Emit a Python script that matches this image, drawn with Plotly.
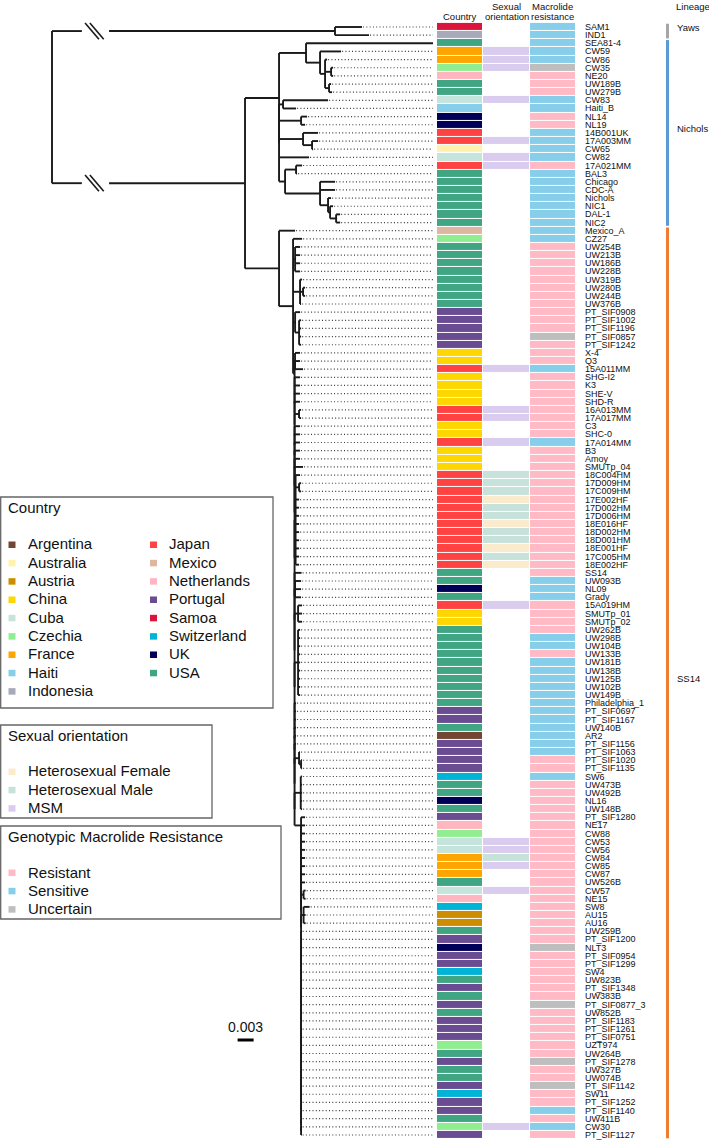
import plotly.graph_objects as go

# ---------------------------------------------------------------- data
COUNTRIES = ["Argentina", "Australia", "Austria", "China", "Cuba", "Czechia", "France", "Haiti",
             "Indonesia", "Japan", "Mexico", "Netherlands", "Portugal", "Samoa", "Switzerland",
             "UK", "USA"]
COUNTRY_COLORS = ["#734634", "#FFF2AE", "#CC8E00", "#FFD700", "#C5E4DC", "#90EE90", "#FFA500",
                  "#87CEEB", "#A8A9BA", "#FF4343", "#DDB89F", "#FFB6C1", "#6A4C93", "#DC143C",
                  "#00B4D8", "#000058", "#40A583"]
ORIENTATIONS = ["Heterosexual Female", "Heterosexual Male", "MSM"]
ORIENT_COLORS = ["#FAEBCC", "#C6E2DA", "#D9CCEF"]
RESISTANCE = ["Resistant", "Sensitive", "Uncertain"]
RESIST_COLORS = ["#FFBAC6", "#87CEEB", "#BEBEBE"]
LINEAGES = ["Yaws", "Nichols", "SS14"]
LINEAGE_COLORS = ["#A6A6A6", "#5B9BD5", "#ED7D31"]
LINEAGE_FIRST = ["SAM1", "SEA81-4", "Mexico_A"]
LINEAGE_LAST = ["IND1", "NIC2", "PT_SIF1127"]
COLUMN_HEADERS = [["Country"], ["Sexual", "orientation"], ["Macrolide", "resistance"]]

TIP_NAMES = [
    "SAM1", "IND1", "SEA81-4", "CW59", "CW86", "CW35", "NE20", "UW189B", "UW279B", "CW83",
    "Haiti_B", "NL14", "NL19", "14B001UK", "17A003MM", "CW65", "CW82", "17A021MM", "BAL3", "Chicago",
    "CDC-A", "Nichols", "NIC1", "DAL-1", "NIC2", "Mexico_A", "CZ27", "UW254B", "UW213B", "UW186B",
    "UW228B", "UW319B", "UW280B", "UW244B", "UW376B", "PT_SIF0908", "PT_SIF1002", "PT_SIF1196", "PT_SIF0857", "PT_SIF1242",
    "X-4", "Q3", "15A011MM", "SHG-I2", "K3", "SHE-V", "SHD-R", "16A013MM", "17A017MM", "C3",
    "SHC-0", "17A014MM", "B3", "Amoy", "SMUTp_04", "18C004HM", "17D009HM", "17C009HM", "17E002HF", "17D002HM",
    "17D006HM", "18E016HF", "18D002HM", "18D001HM", "18E001HF", "17C005HM", "18E002HF", "SS14", "UW093B", "NL09",
    "Grady", "15A019HM", "SMUTp_01", "SMUTp_02", "UW262B", "UW298B", "UW104B", "UW133B", "UW181B", "UW138B",
    "UW125B", "UW102B", "UW149B", "Philadelphia_1", "PT_SIF0697", "PT_SIF1167", "UW140B", "AR2", "PT_SIF1156", "PT_SIF1063",
    "PT_SIF1020", "PT_SIF1135", "SW6", "UW473B", "UW492B", "NL16", "UW148B", "PT_SIF1280", "NE17", "CW88",
    "CW53", "CW56", "CW84", "CW85", "CW87", "UW526B", "CW57", "NE15", "SW8", "AU15",
    "AU16", "UW259B", "PT_SIF1200", "NLT3", "PT_SIF0954", "PT_SIF1299", "SW4", "UW823B", "PT_SIF1348", "UW383B",
    "PT_SIF0877_3", "UW852B", "PT_SIF1183", "PT_SIF1261", "PT_SIF0751", "UZT974", "UW264B", "PT_SIF1278", "UW327B", "UW074B",
    "PT_SIF1142", "SW11", "PT_SIF1252", "PT_SIF1140", "UW411B", "CW30", "PT_SIF1127"]

TIP_COUNTRY = [
    "Samoa", "Indonesia", "USA", "France", "France", "Czechia", "Netherlands", "USA", "USA", "Cuba",
    "Haiti", "UK", "UK", "Japan", "Japan", "Australia", "Cuba", "Japan", "USA", "USA",
    "USA", "USA", "USA", "USA", "USA", "Mexico", "Czechia", "USA", "USA", "USA",
    "USA", "USA", "USA", "USA", "USA", "Portugal", "Portugal", "Portugal", "Portugal", "Portugal",
    "China", "China", "Japan", "China", "China", "China", "China", "Japan", "Japan", "China",
    "China", "Japan", "China", "China", "China", "Japan", "Japan", "Japan", "Japan", "Japan",
    "Japan", "Japan", "Japan", "Japan", "Japan", "Japan", "Japan", "USA", "USA", "UK",
    "USA", "Japan", "China", "China", "USA", "USA", "USA", "USA", "USA", "USA",
    "USA", "USA", "USA", "USA", "Portugal", "Portugal", "USA", "Argentina", "Portugal", "Portugal",
    "Portugal", "Portugal", "Switzerland", "USA", "USA", "UK", "USA", "Portugal", "Netherlands", "Czechia",
    "Cuba", "Cuba", "France", "France", "France", "USA", "Cuba", "Netherlands", "Switzerland", "Austria",
    "Austria", "USA", "Portugal", "UK", "Portugal", "Portugal", "Switzerland", "USA", "Portugal", "USA",
    "Portugal", "USA", "Portugal", "Portugal", "Portugal", "Czechia", "USA", "Portugal", "USA", "USA",
    "Portugal", "Switzerland", "Portugal", "Portugal", "USA", "Czechia", "Portugal"]

# R = Resistant, S = Sensitive, U = Uncertain (one letter per tip, same order as TIP_NAMES)
TIP_RESISTANCE = list(
    "SSSSSURRRS" "SRRSSSSRSS" "SSSSSSSRRR" "RRRRRRRRUR" "RRSRRRRRRR"
    "RSRRRRRRRR" "RRRRRRRRSS" "SRRRRSSRSS" "SSSSSSSSSS" "RRSRRRRRRR"
    "RRRRRRRRRR" "RRRURRRRRR" "URRRRRRURR" "URRSRSR")

ORIENTATION_BY_TIP = {
    "CW59": "MSM", "CW86": "MSM", "CW35": "MSM", "CW83": "MSM", "17A003MM": "MSM", "CW82": "MSM",
    "17A021MM": "MSM", "15A011MM": "MSM", "16A013MM": "MSM", "17A017MM": "MSM", "17A014MM": "MSM",
    "18C004HM": "Heterosexual Male", "17D009HM": "Heterosexual Male", "17C009HM": "Heterosexual Male",
    "17E002HF": "Heterosexual Female", "17D002HM": "Heterosexual Male", "17D006HM": "Heterosexual Male",
    "18E016HF": "Heterosexual Female", "18D002HM": "Heterosexual Male", "18D001HM": "Heterosexual Male",
    "18E001HF": "Heterosexual Female", "17C005HM": "Heterosexual Male", "18E002HF": "Heterosexual Female",
    "15A019HM": "MSM", "CW53": "MSM", "CW56": "MSM", "CW84": "Heterosexual Male", "CW85": "MSM",
    "CW57": "MSM", "CW30": "MSM"}

# Tree (Newick), branch lengths in units of 1e-4 substitutions/site.
LENGTH_UNIT = 1e-4
SCALE_BAR = 0.003
NEWICK_YAWS = "(SAM1:50.6,IND1:63.8)"
NEWICK_NICHOLS_A = ("(SEA81-4:238.1,(CW59:39.4,(CW86:3.8,(CW35:3.8,NE20:3.8):11.3,"
                    "(UW189B:3.8,UW279B:5.6):7.5):9.4):26.3)")
NEWICK_NICHOLS_B = ("((CW83:84.4,Haiti_B:24.4):7.5,(NL14:11.3,NL19:7.5):41.3,"
                    "(14B001UK:28.1,(17A003MM:11.3,CW65:1.9):16.9):45.0,CW82:56.3,"
                    "((17A021MM:11.3,BAL3:1.9):20.6,(Chicago:28.1,CDC-A:28.1,(Nichols:5.6,"
                    "(NIC1:5.6,(DAL-1:7.5,NIC2:7.5):11.3):3.8):15.0):65.6):11.3)")
NEWICK_SS14_TOP = ("CZ27:16.9,(UW254B:9.4,UW213B:9.4,UW186B:9.4,UW228B:9.4):3.8,"
                   "(UW319B:3.8,(UW280B:3.8,UW244B:3.8):5.6,UW376B:1.9):13.1,"
                   "(PT_SIF0908:9.4,(PT_SIF1002:3.8,PT_SIF1196:3.8,PT_SIF0857:3.8,PT_SIF1242:3.8):7.5):3.8")
SS14_BACKBONE = [
    "(X-4:9.4,Q3:9.4,15A011MM:15.0):0.9", "SHG-I2:10.3", "K3:10.3", "SHE-V:10.3", "SHD-R:10.3",
    "(16A013MM:3.8,17A017MM:3.8):8.4", "C3:10.3", "SHC-0:10.3", "17A014MM:10.3", "B3:10.3",
    "Amoy:10.3", "SMUTp_04:15.9",
    "(18C004HM:8.4,(17D009HM:3.8,17C009HM:3.8):6.6,17E002HF:6.6,17D002HM:6.6,17D006HM:6.6,"
    "18E016HF:6.6,18D002HM:6.6,18D001HM:6.6,18E001HF:6.6,17C005HM:6.6,18E002HF:6.6):1.9",
    "SS14:13.1", "(UW093B:11.3,NL09:11.3,Grady:11.3):0.9",
    "(15A019HM:7.5,SMUTp_01:7.5,SMUTp_02:7.5):6.6",
    "(UW262B:3.8,UW298B:3.8,UW104B:3.8,UW133B:3.8,UW181B:3.8,UW138B:3.8,UW125B:3.8,"
    "UW102B:3.8,UW149B:3.8):6.6",
    "Philadelphia_1:2.8", "PT_SIF0697:2.8", "PT_SIF1167:2.8", "UW140B:2.8", "AR2:2.8", "PT_SIF1156:2.8",
    "(PT_SIF1063:1.9,(PT_SIF1020:1.9,PT_SIF1135:1.9):3.8):8.4",
    "(SW6:2.5,UW473B:2.5,UW492B:2.5,NL16:2.5,UW148B:2.5):11.6"]
SS14_BACKBONE_TO_BOTTOM = 12.2
SS14_BOTTOM = [
    "PT_SIF1280:7.5", "NE17:7.5", "CW88:7.5", "CW53:7.5", "CW56:7.5", "CW84:7.5", "CW85:7.5",
    "CW87:7.5", "UW526B:7.5", "(CW57:3.8,NE15:3.8):4.7", "(SW8:11.3,AU15:3.8,AU16:3.8):4.7",
    "UW259B:0.9", "PT_SIF1200:0.9", "NLT3:0.9", "PT_SIF0954:0.9", "PT_SIF1299:0.9", "SW4:0.9",
    "UW823B:0.9", "PT_SIF1348:0.9", "UW383B:0.9", "PT_SIF0877_3:0.9", "UW852B:0.9", "PT_SIF1183:0.9",
    "PT_SIF1261:0.9", "PT_SIF0751:0.9", "UZT974:0.9", "UW264B:0.9", "PT_SIF1278:0.9", "UW327B:0.9",
    "UW074B:0.9", "PT_SIF1142:0.9", "SW11:0.9", "PT_SIF1252:0.9", "PT_SIF1140:0.9", "UW411B:0.9",
    "CW30:0.9", "PT_SIF1127:0.9"]

# ---------------------------------------------------------------- geometry / style
W, H = 709, 1143
ROOT_PX = 52.0          # pixel column of the root
PX_PER_SUB = 16 / SCALE_BAR
ROW0_PX, ROW_PX = 27.0, 8.147
BREAK_GAP = (0.0056, 0.0107)
FONT = "Arial, Liberation Sans, sans-serif"


def ladder(items):
    """ladderised nesting: (a,(b,(c,...):0):0)"""
    s = items[-1]
    for it in reversed(items[:-1]):
        s = "(" + it + "," + s + "):0"
    return s[:-2] if s.endswith(":0") else s


bottom = ladder(SS14_BOTTOM)
backbone = ladder(SS14_BACKBONE + [bottom + ":" + str(SS14_BACKBONE_TO_BOTTOM)])
NEWICK = ("(" + NEWICK_YAWS + ":530.6,((" + NEWICK_NICHOLS_A + ":50.6," + NEWICK_NICHOLS_B + ":0):63.8,"
          "(Mexico_A:30.0,(" + NEWICK_SS14_TOP + "," + backbone + ":2.8):26.3):63.8):361.9);")


def parse_newick(s):
    pos = 0

    def node():
        nonlocal pos
        children = []
        if s[pos] == "(":
            pos += 1
            while True:
                children.append(node())
                if s[pos] == ",":
                    pos += 1
                    continue
                if s[pos] == ")":
                    pos += 1
                    break
        start = pos
        while pos < len(s) and s[pos] not in ":,();":
            pos += 1
        name = s[start:pos]
        length = 0.0
        if pos < len(s) and s[pos] == ":":
            pos += 1
            start = pos
            while pos < len(s) and s[pos] not in ",();":
                pos += 1
            length = float(s[start:pos])
        return {"name": name, "len": length, "children": children}

    return node()


tree = parse_newick(NEWICK)
ROW = {n: i for i, n in enumerate(TIP_NAMES)}


def place(node, depth):
    node["x"] = depth
    if not node["children"]:
        node["y"] = ROW[node["name"]]
    else:
        for c in node["children"]:
            place(c, depth + c["len"] * LENGTH_UNIT)
        node["y"] = (node["children"][0]["y"] + node["children"][-1]["y"]) / 2


place(tree, 0.0)

tx, ty = [], []
tips = []


def seg(x0, y0, x1, y1):
    tx.extend([x0, x1, None])
    ty.extend([y0, y1, None])


def walk(node, parent, root_child):
    if parent is not None:
        if root_child:
            seg(parent["x"], node["y"], BREAK_GAP[0], node["y"])
            seg(BREAK_GAP[1], node["y"], node["x"], node["y"])
        else:
            seg(parent["x"], node["y"], node["x"], node["y"])
    if node["children"]:
        seg(node["x"], node["children"][0]["y"], node["x"], node["children"][-1]["y"])
        for c in node["children"]:
            walk(c, node, parent is None)
    else:
        tips.append(node)


walk(tree, None, False)

# break marks
sx, sy = [], []
mid = (BREAK_GAP[0] + BREAK_GAP[1]) / 2 - 0.0002
for c in tree["children"]:
    for off in (-0.00045, 0.00045):
        sx.extend([mid + off - 0.0013, mid + off + 0.0013, None])
        sy.extend([c["y"] - 1.0, c["y"] + 1.0, None])

# dotted leaders to aligned tips
xmax = max(t["x"] for t in tips)
lx, ly = [], []
for t in tips:
    if t["x"] < xmax - 1e-9:
        lx.extend([t["x"] + 0.0002, xmax, None])
        ly.extend([t["y"], t["y"], None])

# heatmap
ALL_COLORS = COUNTRY_COLORS + ORIENT_COLORS + RESIST_COLORS
n_all = len(ALL_COLORS)
cs = []
for k, col in enumerate(ALL_COLORS):
    lo = max(0.0, (k - 0.5) / (n_all - 1))
    hi = min(1.0, (k + 0.5) / (n_all - 1))
    cs.append([lo, col])
    cs.append([hi, col])
res_idx = {"R": 0, "S": 1, "U": 2}
Z = []
for i, name in enumerate(TIP_NAMES):
    c = COUNTRIES.index(TIP_COUNTRY[i])
    o = ORIENTATION_BY_TIP.get(name)
    o = None if o is None else len(COUNTRIES) + ORIENTATIONS.index(o)
    r = len(COUNTRIES) + len(ORIENTATIONS) + res_idx[TIP_RESISTANCE[i]]
    Z.append([c, o, r])

fig = go.Figure()
fig.add_trace(go.Heatmap(z=Z, x=[0, 1, 2], y=list(range(len(TIP_NAMES))), xaxis="x2", yaxis="y",
                         colorscale=cs, zmin=0, zmax=n_all - 1, showscale=False,
                         xgap=1, ygap=1, hoverinfo="skip"))
fig.add_trace(go.Scatter(x=lx, y=ly, mode="lines", hoverinfo="skip",
                         line=dict(color="#3a3a3a", width=1.2, dash="1px,2.3px")))
fig.add_trace(go.Scatter(x=tx, y=ty, mode="lines", hoverinfo="skip",
                         line=dict(color="#1a1a1a", width=1.9)))
fig.add_trace(go.Scatter(x=sx, y=sy, mode="lines", hoverinfo="skip",
                         line=dict(color="#1a1a1a", width=1.6)))


def fx(px):
    return px / W


def fy(py):
    return 1 - py / H


ann = []
shapes = []
for i, name in enumerate(TIP_NAMES):
    ann.append(dict(x=fx(582.5), xref="paper", y=i, yref="y", text=name, showarrow=False,
                    xanchor="left", yanchor="middle", font=dict(size=9, family=FONT, color="#111")))

for k, lines in enumerate(COLUMN_HEADERS):
    for j, line in enumerate(reversed(lines)):
        ann.append(dict(x=k, xref="x2", y=fy(16.5 - 10 * j), yref="paper", text=line, showarrow=False,
                        xanchor="center", yanchor="middle",
                        font=dict(size=9.5, family=FONT, color="#111")))

# lineage bars
ann.append(dict(x=fx(673.5), xref="paper", y=fy(6.5), yref="paper", text="Lineage", showarrow=False,
                xanchor="left", yanchor="middle", font=dict(size=9.5, family=FONT, color="#111")))
for lab, col, a, b in zip(LINEAGES, LINEAGE_COLORS, LINEAGE_FIRST, LINEAGE_LAST):
    y0, y1 = ROW[a] - 0.5 + 0.1, ROW[b] + 0.5 - 0.1
    shapes.append(dict(type="line", xref="paper", x0=fx(667.5), x1=fx(667.5), yref="y", y0=y0, y1=y1,
                       line=dict(color=col, width=3)))
    ann.append(dict(x=fx(674.5), xref="paper", y=(ROW[a] + ROW[b]) / 2 - 0.5, yref="y", text=lab,
                    showarrow=False, xanchor="left", yanchor="middle",
                    font=dict(size=9.5, family=FONT, color="#111")))

# scale bar
SB_X0 = 0.0348
shapes.append(dict(type="line", xref="x", x0=SB_X0, x1=SB_X0 + SCALE_BAR, yref="paper",
                   y0=fy(1040), y1=fy(1040), line=dict(color="#000", width=3)))
ann.append(dict(x=SB_X0 + SCALE_BAR / 2, xref="x", y=fy(1027), yref="paper", text=str(SCALE_BAR),
                showarrow=False, xanchor="center", yanchor="middle",
                font=dict(size=14, family=FONT, color="#111")))


# legends
def legend_box(x0, y0, x1, y1, title, title_y, items, colors, cols):
    shapes.append(dict(type="rect", xref="paper", yref="paper", x0=fx(x0), x1=fx(x1),
                       y0=fy(y0), y1=fy(y1), line=dict(color="#666", width=1.3),
                       fillcolor="rgba(0,0,0,0)"))
    ann.append(dict(x=fx(6), xref="paper", y=fy(title_y), yref="paper", text=title, showarrow=False,
                    xanchor="left", yanchor="middle", font=dict(size=15, family=FONT, color="#111")))
    for k, (it, col) in enumerate(zip(items, colors)):
        c_i, ty_ = cols(k)
        mx, tx_ = [(12, 26), (153.5, 167)][c_i]
        shapes.append(dict(type="rect", xref="paper", yref="paper", x0=fx(mx - 3.5), x1=fx(mx + 3.5),
                           y0=fy(ty_ - 3), y1=fy(ty_ + 3.5), line=dict(width=0), fillcolor=col))
        ann.append(dict(x=fx(tx_), xref="paper", y=fy(ty_ - 0.5), yref="paper", text=it,
                        showarrow=False, xanchor="left", yanchor="middle",
                        font=dict(size=15, family=FONT, color="#111")))


legend_box(0.7, 497, 273, 708, "Country", 507.5, COUNTRIES, COUNTRY_COLORS,
           lambda k: (0, 544.5 + 18.33 * k) if k < 9 else (1, 544.5 + 18.33 * (k - 9)))
legend_box(0.7, 725, 212, 818, "Sexual orientation", 735.5, ORIENTATIONS, ORIENT_COLORS,
           lambda k: (0, 771.5 + 18.33 * k))
legend_box(0.7, 826, 281, 919, "Genotypic Macrolide Resistance", 836.5, RESISTANCE, RESIST_COLORS,
           lambda k: (0, 872.5 + 18.33 * k))

fig.update_layout(
    width=W, height=H, margin=dict(l=0, r=0, t=0, b=0), autosize=False,
    paper_bgcolor="white", plot_bgcolor="white", showlegend=False,
    xaxis=dict(domain=[0, 1], range=[-ROOT_PX / PX_PER_SUB, (W - ROOT_PX) / PX_PER_SUB],
               visible=False, fixedrange=True),
    xaxis2=dict(domain=[fx(437), fx(576)], range=[-0.5, 2.5], anchor="y", visible=False,
                fixedrange=True),
    yaxis=dict(domain=[0, 1], range=[(H - ROW0_PX) / ROW_PX, -ROW0_PX / ROW_PX], visible=False,
               fixedrange=True),
    annotations=ann, shapes=shapes,
)
fig.write_html("out.html", config={"displayModeBar": False},
               post_script="document.body.style.margin='0px';")
